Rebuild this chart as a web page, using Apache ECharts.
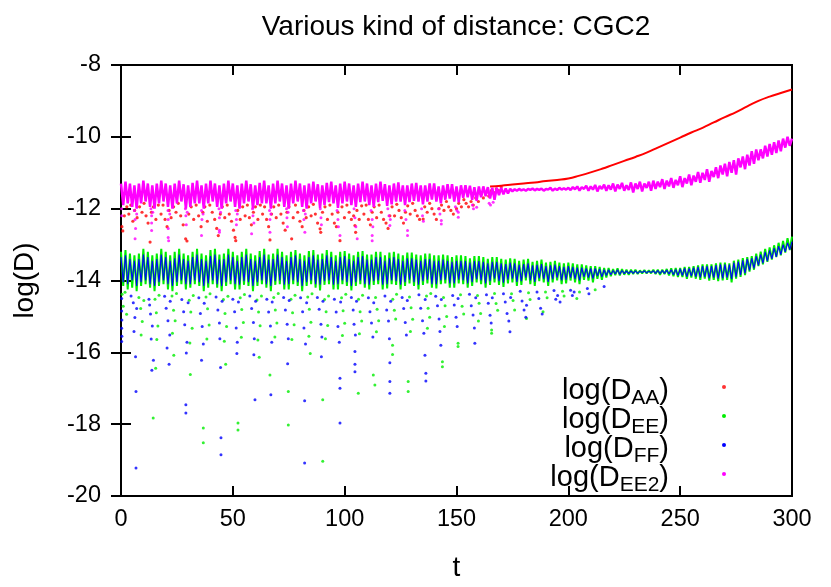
<!DOCTYPE html>
<html><head><meta charset="utf-8">
<script src="https://cdn.jsdelivr.net/npm/echarts@6/dist/echarts.min.js"></script>
<style>html,body{margin:0;padding:0;background:#fff}#c{width:831px;height:587px}</style>
</head><body><div id="c"></div>
<script>
// ---------------- DATA ----------------
const chartTitle = 'Various kind of distance: CGC2';
const xName = 't';
const yName = 'log(D)';
const seriesNames = ['log(DAA)', 'log(DEE)', 'log(DFF)', 'log(DEE2)'];
const seriesSubs = ['AA', 'EE', 'FF', 'EE2'];
const tStep = 1; // sampling step (in t) of the dense traces below

// log(D_EE2): dense trace, t = 0..300
const ee2Core = [
-11.3,-11.9,-11.25,-11.85,-11.3,-11.95,-11.35,-12.0,-11.3,-11.85,
-11.22,-11.8,-11.3,-11.95,-11.35,-12.0,-11.3,-11.85,-11.22,-11.8,
-11.3,-11.95,-11.35,-12.0,-11.3,-11.85,-11.22,-11.8,-11.32,-12.0,
-11.35,-11.95,-11.28,-11.85,-11.22,-11.85,-11.35,-12.0,-11.3,-11.85,
-11.22,-11.8,-11.3,-11.95,-11.35,-12.0,-11.3,-11.85,-11.22,-11.8,
-11.3,-11.95,-11.35,-12.0,-11.3,-11.85,-11.22,-11.8,-11.32,-12.0,
-11.35,-11.9,-11.28,-11.85,-11.22,-11.85,-11.35,-12.0,-11.3,-11.85,
-11.22,-11.8,-11.3,-11.95,-11.35,-12.0,-11.3,-11.85,-11.22,-11.8,
-11.3,-11.95,-11.35,-12.0,-11.3,-11.85,-11.25,-11.8,-11.32,-11.98,
-11.35,-11.9,-11.28,-11.82,-11.25,-11.85,-11.35,-11.98,-11.3,-11.85,
-11.25,-11.8,-11.3,-11.9,-11.35,-11.95,-11.3,-11.82,-11.25,-11.8,
-11.3,-11.9,-11.35,-11.95,-11.3,-11.82,-11.25,-11.78,-11.32,-11.92,
-11.35,-11.88,-11.3,-11.8,-11.27,-11.8,-11.35,-11.9,-11.35,-11.82,
-11.3,-11.78,-11.28,-11.8,-11.35,-11.88,-11.35,-11.8,-11.3,-11.75,
-11.3,-11.8,-11.38,-11.85,-11.35,-11.75,-11.32,-11.72,-11.32,-11.8,
-11.38,-11.82,-11.35,-11.7,-11.35,-11.68,-11.36,-11.75,-11.4,-11.78,
-11.38,-11.68,-11.38,-11.65,-11.4,-11.72,-11.42,-11.75,-11.42,-11.62,
-11.42,-11.6,-11.44,-11.58,-11.45,-11.52,-11.46,-11.5,-11.45,-11.49,
-11.46,-11.5,-11.45,-11.48,-11.44,-11.49,-11.45,-11.48,-11.44,-11.5,
-11.45,-11.47,-11.42,-11.5,-11.44,-11.48,-11.42,-11.47,-11.43,-11.47,
-11.42,-11.48,-11.4,-11.46,-11.38,-11.5,-11.4,-11.45,-11.36,-11.5,
-11.38,-11.47,-11.34,-11.52,-11.37,-11.45,-11.33,-11.5,-11.35,-11.47,
-11.3,-11.52,-11.33,-11.45,-11.28,-11.5,-11.35,-11.48,-11.27,-11.55,
-11.3,-11.45,-11.25,-11.52,-11.3,-11.42,-11.25,-11.5,-11.22,-11.45,
-11.25,-11.4,-11.18,-11.45,-11.22,-11.38,-11.15,-11.42,-11.2,-11.35,
-11.1,-11.4,-11.15,-11.3,-11.05,-11.35,-11.08,-11.25,-10.98,-11.28,
-11.0,-11.2,-10.9,-11.25,-10.95,-11.12,-10.85,-11.15,-10.8,-11.05,
-10.75,-11.1,-10.7,-11.0,-10.65,-11.05,-10.6,-10.85,-10.55,-10.9,
-10.5,-10.8,-10.4,-10.75,-10.35,-10.65,-10.35,-10.6,-10.25,-10.55,
-10.2,-10.5,-10.15,-10.45,-10.1,-10.4,-10.05,-10.3,-10.0,-10.25,
-10.05
];

// log(D_EE): dense trace, t = 0..300
const eeCore = [
-13.2,-14.15,-13.15,-14.25,-13.25,-14.2,-13.3,-14.3,-13.25,-14.15,
-13.12,-14.1,-13.2,-14.2,-13.3,-14.3,-13.25,-14.15,-13.12,-14.1,
-13.2,-14.25,-13.3,-14.3,-13.2,-14.15,-13.12,-14.1,-13.25,-14.25,
-13.3,-14.2,-13.2,-14.1,-13.12,-14.15,-13.25,-14.3,-13.3,-14.2,
-13.15,-14.1,-13.12,-14.2,-13.28,-14.3,-13.25,-14.15,-13.12,-14.1,
-13.2,-14.25,-13.3,-14.25,-13.2,-14.12,-13.12,-14.15,-13.25,-14.3,
-13.3,-14.15,-13.18,-14.1,-13.12,-14.2,-13.28,-14.3,-13.25,-14.12,
-13.12,-14.1,-13.2,-14.25,-13.3,-14.25,-13.2,-14.1,-13.15,-14.15,
-13.25,-14.3,-13.3,-14.15,-13.18,-14.1,-13.15,-14.2,-13.28,-14.28,
-13.25,-14.12,-13.15,-14.1,-13.2,-14.25,-13.3,-14.25,-13.2,-14.1,
-13.18,-14.15,-13.25,-14.28,-13.3,-14.15,-13.2,-14.1,-13.18,-14.2,
-13.28,-14.25,-13.28,-14.12,-13.2,-14.1,-13.2,-14.25,-13.3,-14.22,
-13.22,-14.1,-13.2,-14.12,-13.25,-14.25,-13.3,-14.15,-13.22,-14.08,
-13.22,-14.15,-13.28,-14.25,-13.3,-14.12,-13.25,-14.08,-13.25,-14.2,
-13.3,-14.22,-13.3,-14.1,-13.28,-14.08,-13.3,-14.2,-13.35,-14.2,
-13.3,-14.08,-13.3,-14.1,-13.32,-14.2,-13.38,-14.15,-13.32,-14.05,
-13.32,-14.1,-13.35,-14.2,-13.4,-14.12,-13.35,-14.05,-13.35,-14.12,
-13.4,-14.18,-13.42,-14.08,-13.38,-14.05,-13.4,-14.15,-13.45,-14.12,
-13.42,-14.0,-13.4,-14.1,-13.48,-14.15,-13.45,-14.02,-13.42,-14.05,
-13.5,-14.15,-13.48,-14.05,-13.45,-14.0,-13.5,-14.1,-13.52,-14.08,
-13.5,-14.0,-13.52,-14.05,-13.55,-14.1,-13.55,-13.98,-13.58,-14.0,
-13.6,-14.05,-13.6,-13.95,-13.62,-13.98,-13.65,-13.92,-13.65,-13.88,
-13.68,-13.85,-13.66,-13.86,-13.68,-13.84,-13.7,-13.84,-13.7,-13.82,
-13.7,-13.82,-13.72,-13.8,-13.71,-13.8,-13.72,-13.8,-13.7,-13.82,
-13.7,-13.84,-13.7,-13.82,-13.68,-13.86,-13.66,-13.88,-13.65,-13.9,
-13.65,-13.9,-13.62,-13.95,-13.62,-13.92,-13.6,-13.95,-13.58,-13.98,
-13.55,-13.95,-13.55,-14.0,-13.55,-13.98,-13.52,-14.02,-13.5,-14.0,
-13.5,-13.98,-13.52,-14.05,-13.45,-13.95,-13.42,-13.9,-13.38,-13.85,
-13.35,-13.75,-13.32,-13.7,-13.25,-13.6,-13.2,-13.55,-13.12,-13.48,
-13.08,-13.42,-13.02,-13.35,-12.95,-13.3,-12.9,-13.22,-12.82,-13.15,
-12.78
];

// log(D_FF): dense trace, t = 0..300
const ffCore = [
-13.35,-14.05,-13.3,-14.1,-13.4,-14.0,-13.45,-14.15,-13.4,-14.05,
-13.28,-14.0,-13.35,-14.1,-13.45,-14.15,-13.4,-14.05,-13.28,-14.0,
-13.35,-14.1,-13.45,-14.15,-13.38,-14.05,-13.28,-14.0,-13.4,-14.1,
-13.45,-14.1,-13.35,-14.0,-13.28,-14.05,-13.4,-14.15,-13.45,-14.08,
-13.32,-14.0,-13.28,-14.1,-13.42,-14.15,-13.4,-14.05,-13.28,-14.0,
-13.35,-14.1,-13.45,-14.12,-13.35,-14.02,-13.28,-14.05,-13.4,-14.15,
-13.45,-14.05,-13.35,-14.0,-13.28,-14.1,-13.42,-14.15,-13.4,-14.02,
-13.28,-14.0,-13.35,-14.12,-13.45,-14.1,-13.35,-14.0,-13.3,-14.05,
-13.4,-14.15,-13.45,-14.05,-13.35,-14.0,-13.3,-14.1,-13.42,-14.12,
-13.4,-14.02,-13.3,-14.0,-13.35,-14.12,-13.45,-14.1,-13.35,-14.0,
-13.32,-14.05,-13.4,-14.15,-13.45,-14.05,-13.35,-14.0,-13.32,-14.1,
-13.42,-14.12,-13.42,-14.02,-13.35,-14.0,-13.35,-14.12,-13.45,-14.1,
-13.38,-14.0,-13.35,-14.02,-13.4,-14.12,-13.45,-14.05,-13.38,-13.98,
-13.38,-14.05,-13.42,-14.12,-13.45,-14.02,-13.4,-13.98,-13.4,-14.1,
-13.45,-14.1,-13.45,-14.0,-13.42,-13.98,-13.45,-14.08,-13.48,-14.08,
-13.45,-13.98,-13.45,-14.0,-13.46,-14.08,-13.5,-14.05,-13.46,-13.96,
-13.46,-14.0,-13.48,-14.08,-13.52,-14.02,-13.48,-13.95,-13.48,-14.02,
-13.52,-14.06,-13.54,-13.98,-13.5,-13.95,-13.52,-14.04,-13.56,-14.02,
-13.54,-13.92,-13.52,-14.0,-13.58,-14.04,-13.56,-13.94,-13.54,-13.96,
-13.6,-14.04,-13.58,-13.96,-13.56,-13.92,-13.6,-14.0,-13.62,-13.98,
-13.6,-13.92,-13.62,-13.96,-13.64,-14.0,-13.64,-13.9,-13.66,-13.92,
-13.66,-13.95,-13.66,-13.88,-13.68,-13.9,-13.7,-13.86,-13.7,-13.84,
-13.72,-13.82,-13.7,-13.83,-13.72,-13.81,-13.73,-13.81,-13.73,-13.8,
-13.73,-13.8,-13.74,-13.78,-13.73,-13.79,-13.74,-13.78,-13.73,-13.8,
-13.72,-13.81,-13.72,-13.8,-13.71,-13.82,-13.7,-13.84,-13.69,-13.86,
-13.68,-13.86,-13.66,-13.9,-13.66,-13.88,-13.64,-13.9,-13.62,-13.92,
-13.6,-13.9,-13.6,-13.94,-13.6,-13.92,-13.57,-13.95,-13.55,-13.94,
-13.55,-13.92,-13.56,-13.96,-13.5,-13.9,-13.47,-13.85,-13.44,-13.8,
-13.4,-13.72,-13.38,-13.66,-13.32,-13.58,-13.27,-13.52,-13.2,-13.46,
-13.16,-13.4,-13.1,-13.34,-13.04,-13.28,-13.0,-13.2,-12.95,-13.14,
-12.92
];

// log(D_AA): smooth part of the trace
const aaCurveT = [165,170,175,180,185,190,195,200,205,210,215,220,225,230,235,240,245,250,255,260,265,270,275,280,285,290,295,300];
const aaCurveY = [-11.38,-11.36,-11.33,-11.3,-11.27,-11.23,-11.2,-11.16,-11.08,-10.99,-10.89,-10.78,-10.67,-10.56,-10.44,-10.3,-10.16,-10.02,-9.88,-9.75,-9.6,-9.45,-9.31,-9.15,-9.0,-8.88,-8.78,-8.68];

// log(D_AA): scattered points, t < 170
const aaDots = [
[0.4,-12.5],[0.8,-12.62],[1.5,-12.2],[2.6,-11.95],[3.5,-12.15],[4.4,-11.9],[5.3,-12.35],[6.1,-12.05],[7.2,-12.25],[8.3,-11.95],[9.4,-12.1],
[10.3,-11.85],[11.2,-12.2],[12.1,-12.4],[13.0,-12.93],[13.6,-12.1],[14.5,-11.95],[15.6,-12.3],[16.7,-11.9],
[17.9,-12.15],[18.8,-11.9],[19.7,-12.3],[20.6,-12.5],[21.5,-12.05],[22.4,-12.25],[23.5,-11.95],[24.6,-12.1],
[25.6,-11.85],[26.7,-12.2],[27.8,-12.45],[28.9,-12.84],[29.5,-12.9],[30.3,-12.15],[31.4,-11.95],[32.5,-12.3],
[33.6,-11.9],[34.7,-12.2],[35.8,-12.5],[36.6,-12.1],[37.5,-11.95],[38.6,-12.35],[39.7,-11.9],
[40.8,-12.1],[41.9,-12.3],[42.8,-12.55],[43.5,-12.75],[44.4,-12.15],[45.3,-11.95],[46.4,-12.25],[47.5,-11.9],
[48.4,-12.15],[49.4,-12.35],[50.3,-12.6],[51.0,-12.8],[51.3,-12.89],[52.2,-12.05],[53.3,-12.3],[54.4,-11.95],[55.5,-12.2],
[56.5,-11.9],[57.4,-12.25],[58.3,-12.45],[59.2,-12.1],[60.1,-11.95],[61.2,-12.3],[62.3,-11.9],[63.3,-12.15],
[64.2,-11.95],[65.1,-12.3],[66.0,-12.5],[66.6,-12.87],[67.3,-12.15],[68.3,-11.95],[69.4,-12.25],[70.5,-11.9],
[71.5,-12.15],[72.5,-12.4],[73.4,-12.6],[74.2,-12.1],[75.1,-11.95],[76.3,-12.84],[77.0,-12.25],[78.0,-11.9],
[79.0,-12.1],[80.0,-12.35],[81.0,-12.5],[81.8,-12.05],[82.8,-12.25],[83.9,-11.95],[85.0,-12.2],[86.0,-11.88],
[86.9,-12.15],[87.9,-12.4],[89.0,-12.56],[89.3,-12.66],[90.1,-12.1],[91.2,-11.95],[92.3,-12.3],[93.4,-11.9],
[94.4,-12.15],[95.4,-12.4],[96.3,-12.5],[97.0,-12.1],[97.9,-12.89],[98.8,-11.95],[99.9,-12.25],[101.0,-11.9],
[102.0,-12.1],[103.0,-12.3],[104.0,-12.2],[104.6,-12.47],[104.9,-12.66],[105.5,-12.05],[106.5,-12.3],[107.6,-11.92],[108.6,-12.15],
[109.6,-11.9],[110.6,-12.3],[111.5,-12.45],[112.3,-12.1],[113.2,-11.95],[114.3,-12.25],[115.4,-11.9],
[116.4,-12.1],[117.4,-12.3],[118.5,-12.4],[119.4,-12.55],[120.2,-12.2],[121.2,-11.95],[122.3,-12.2],[123.3,-11.88],
[124.3,-12.05],[125.3,-12.25],[126.3,-12.4],[127.2,-12.1],[128.2,-11.92],[129.3,-12.15],[130.4,-11.85],
[131.5,-12.05],[132.5,-12.2],[133.5,-12.3],[135.1,-12.29],[135.8,-11.95],[136.9,-12.1],[138.0,-11.85],
[139.0,-12.0],[140.0,-12.15],[141.0,-12.3],[142.2,-12.0],[143.3,-11.9],[144.4,-12.05],[145.5,-11.8],
[146.5,-11.95],[147.5,-12.05],[148.6,-12.15],[150.0,-12.0],[151.0,-11.85],[152.2,-11.95],[153.3,-11.75],
[154.3,-11.85],[155.4,-11.95],[156.5,-11.8],[157.5,-11.9],[158.6,-11.7],[159.8,-11.8],[161.0,-11.6],
[162.0,-11.7],[163.2,-11.55],[164.4,-11.65],[165.6,-11.5],[166.7,-11.55],[167.8,-11.45],[168.9,-11.5],[170.0,-11.4]
];

// log(D_EE2): scattered points below the trace
const ee2Dots = [
[0.3,-12.0],[0.3,-12.2],[6.0,-12.05],[6.3,-12.3],[6.5,-12.55],[6.3,-12.84],[7.0,-12.15],
[13.4,-12.0],[13.7,-12.2],[13.7,-12.4],[13.7,-12.61],[14.2,-12.1],
[21.0,-12.05],[21.1,-12.3],[21.1,-12.55],[21.1,-12.8],[21.3,-12.89],[21.8,-12.15],
[28.8,-12.0],[29.0,-12.2],[29.2,-12.45],[29.6,-12.1],
[36.0,-12.05],[36.2,-12.3],[36.0,-12.75],[36.7,-12.15],
[43.8,-12.0],[44.0,-12.25],[44.0,-12.6],[44.0,-12.66],[44.5,-12.1],
[51.3,-12.05],[51.6,-12.3],[51.6,-12.45],[52.0,-12.15],
[58.8,-12.0],[59.0,-12.2],[58.4,-12.7],[59.4,-12.4],
[66.4,-12.05],[66.6,-12.3],[66.6,-12.66],[67.0,-12.15],
[74.0,-12.0],[74.2,-12.25],[74.4,-12.5],[74.7,-12.1],
[81.6,-12.05],[82.2,-12.66],[81.8,-12.3],[82.4,-12.15],
[89.1,-12.0],[89.4,-12.25],[89.6,-12.45],
[96.6,-12.05],[97.0,-12.3],[97.9,-12.75],[97.2,-12.5],
[104.2,-12.0],[104.6,-12.25],[105.6,-12.84],[105.0,-12.5],
[111.8,-12.05],[112.3,-12.3],[112.3,-12.75],[112.3,-12.89],[112.6,-12.5],
[119.3,-12.0],[120.2,-12.47],[119.8,-12.2],[120.4,-12.3],
[126.9,-12.05],[128.1,-12.61],[128.1,-12.75],[127.4,-12.3],
[134.4,-12.0],[134.8,-12.2],[135.2,-12.35],
[142.0,-12.0],[143.2,-12.33],[143.2,-12.43],[142.6,-12.15],
[149.5,-11.95],[150.8,-12.1],[150.8,-12.24],[150.2,-12.05],
[157.1,-11.9],[159.0,-11.96],[157.6,-12.0],
[164.6,-11.85],[166.4,-11.82],[165.2,-11.9]
];

// log(D_EE): scattered points below the trace
const eeDots = [
[0.5,-14.38],[1.0,-14.72],[1.8,-14.33],[2.5,-14.94],
[8.0,-14.47],[8.8,-14.78],[9.5,-15.14],[10.2,-14.56],[9.0,-15.52],
[14.4,-17.83],[15.2,-14.52],[15.8,-14.9],[16.5,-15.27],[16.0,-15.64],[17.0,-14.41],[15.5,-16.44],
[22.8,-14.43],[23.5,-14.83],[24.2,-15.12],[23.0,-15.47],[24.8,-14.36],[23.6,-16.08],
[30.5,-14.55],[31.2,-14.88],[31.8,-15.33],[30.8,-15.74],[32.3,-14.42],[31.0,-16.62],
[36.8,-18.11],[36.8,-18.52],[38.0,-14.46],[38.7,-14.79],[39.4,-15.24],[38.4,-15.63],[39.8,-14.37],
[45.8,-14.53],[46.5,-14.92],[47.2,-15.28],[46.2,-15.69],[47.8,-14.44],[46.8,-16.33],
[52.3,-17.97],[52.3,-18.16],[53.3,-14.48],[54.0,-14.81],[54.7,-15.17],[53.8,-15.58],[55.2,-14.39],
[60.8,-14.54],[61.5,-14.88],[62.2,-15.26],[61.2,-15.66],[62.8,-14.43],[61.8,-16.14],
[66.6,-16.63],[68.3,-14.47],[69.0,-14.82],[69.7,-15.18],[68.8,-15.57],[70.3,-14.36],
[74.8,-17.09],[74.8,-18.02],[76.0,-14.52],[76.7,-14.9],[77.4,-15.23],[76.4,-15.64],[77.8,-14.41],
[83.5,-14.46],[84.2,-14.8],[84.9,-15.16],[84.0,-15.55],[85.4,-14.37],[84.6,-16.03],
[90.2,-17.32],[90.2,-19.03],[91.0,-14.53],[91.7,-14.87],[92.4,-15.25],[91.4,-15.62],[92.8,-14.43],
[98.6,-14.48],[99.3,-14.84],[100.0,-15.19],[99.0,-15.53],[100.5,-14.38],
[106.1,-17.14],[106.2,-14.52],[106.9,-14.87],[107.6,-15.13],[106.6,-15.48],[108.0,-14.41],
[112.8,-16.63],[113.5,-16.91],[113.8,-14.47],[114.5,-14.8],[115.2,-15.12],[114.2,-15.43],
[121.4,-15.8],[121.4,-16.06],[121.5,-14.52],[122.2,-14.83],[122.8,-15.07],[123.2,-14.38],
[128.4,-16.81],[128.4,-17.09],[129.0,-14.46],[129.7,-14.76],[130.4,-15.08],[129.4,-15.42],
[136.6,-14.43],[137.3,-14.77],[138.0,-15.02],[137.0,-15.33],[138.5,-14.36],
[143.7,-16.26],[143.7,-16.4],[144.2,-14.47],[144.9,-14.7],[145.6,-15.0],[144.6,-15.28],
[150.7,-15.75],[150.7,-15.84],[151.8,-14.4],[152.5,-14.72],[153.2,-14.93],
[159.4,-14.42],[160.1,-14.63],[160.8,-14.92],[159.8,-15.13],
[165.7,-15.38],[165.7,-15.47],[167.0,-14.36],[167.7,-14.64],[168.4,-14.83],
[174.6,-14.37],[175.3,-14.56],[176.0,-14.82],
[181.3,-15.06],[182.2,-14.34],[182.9,-14.53],
[188.7,-14.87],[189.8,-14.32],[190.5,-14.48],
[197.4,-14.3],[198.1,-14.43],[203.8,-14.5],[205,-14.32],[212,-14.26]
];

// log(D_FF): scattered points below the trace
const ffDots = [
[0.3,-14.5],[0.3,-14.85],[0.4,-15.1],[0.3,-15.33],[0.4,-15.55],[0.3,-15.7],
[6.7,-19.22],[6.7,-17.09],[5.5,-14.62],[6.2,-15.03],[5.8,-15.42],[7.0,-14.78],[4.5,-14.43],[6.5,-16.12],
[12.5,-14.52],[13.2,-14.93],[14.0,-15.27],[13.5,-15.63],[12.8,-14.68],[14.5,-16.22],[13.8,-16.5],
[19.5,-14.44],[20.2,-14.77],[21.0,-15.12],[21.8,-15.52],[20.6,-15.88],[22.0,-14.58],[21.5,-16.33],
[27.2,-14.53],[28.0,-14.87],[29.0,-17.46],[29.0,-17.69],[28.5,-15.23],[29.5,-15.72],[30.0,-14.62],[29.2,-16.02],
[34.8,-14.48],[35.5,-14.92],[36.3,-15.28],[36.8,-15.77],[37.2,-14.63],[36.0,-16.22],
[42.5,-14.46],[43.3,-14.82],[44.0,-15.18],[44.7,-18.38],[44.7,-18.85],[44.2,-15.62],[45.2,-14.58],[44.5,-16.42],
[50.0,-14.52],[50.8,-14.87],[51.5,-15.32],[52.0,-15.72],[52.5,-14.6],[51.8,-16.03],
[57.6,-14.43],[58.4,-14.78],[59.2,-15.17],[59.9,-17.32],[59.6,-15.62],[60.2,-14.58],[59.4,-16.07],
[65.2,-14.52],[66.0,-14.88],[66.8,-15.27],[67.0,-17.18],[67.4,-15.72],[67.6,-14.6],
[72.7,-14.47],[73.5,-14.82],[74.3,-15.22],[74.8,-15.62],[75.2,-14.56],[74.5,-16.32],
[80.3,-14.48],[81.2,-14.87],[82.1,-17.35],[82.1,-19.08],[81.8,-15.32],[82.5,-15.77],[83.0,-14.62],
[87.8,-14.47],[88.6,-14.8],[89.4,-15.22],[89.8,-15.57],[90.3,-14.58],[89.6,-16.12],
[95.4,-14.52],[96.2,-14.88],[97.0,-15.28],[97.9,-17.97],[97.9,-17.0],[97.9,-16.72],[97.6,-15.72],[98.2,-14.6],
[103.0,-14.47],[103.8,-14.82],[104.6,-15.98],[104.6,-16.33],[104.6,-16.54],[104.2,-15.22],[105.3,-14.58],[104.8,-15.52],
[110.6,-14.48],[111.3,-14.87],[112.0,-15.18],[112.6,-15.57],[113.0,-14.62],
[118.0,-14.43],[118.8,-14.82],[119.6,-15.13],[120.2,-16.29],[120.2,-16.81],[120.2,-17.14],[120.0,-15.62],[120.6,-14.58],
[125.7,-14.47],[126.4,-14.78],[127.1,-15.17],[127.6,-15.52],[128.0,-14.56],
[133.2,-14.4],[134.0,-14.77],[134.8,-15.12],[135.9,-16.08],[136.3,-16.58],[136.3,-16.8],[135.4,-15.47],[136.0,-14.53],
[140.7,-14.44],[141.5,-14.7],[142.2,-15.07],[143.0,-15.8],[142.6,-15.42],[143.2,-14.53],
[148.3,-14.42],[149.0,-14.68],[149.8,-15.02],[150.3,-15.28],[150.7,-14.5],
[155.8,-14.38],[156.6,-14.7],[157.4,-14.96],[158.2,-15.75],[158.0,-15.32],[158.6,-14.48],
[163.4,-14.4],[164.2,-14.63],[165.0,-14.97],[165.5,-15.18],[166.0,-14.48],
[171.0,-14.37],[171.8,-14.6],[172.6,-14.92],[173.9,-15.43],[173.4,-15.13],[174.2,-14.47],
[178.5,-14.3],[179.3,-14.57],[180.2,-14.82],[181.3,-14.69],[181.0,-15.02],
[186.0,-14.32],[186.8,-14.5],[187.6,-14.77],[188.3,-14.93],
[193.6,-14.28],[194.4,-14.52],[195.2,-14.42],[196.3,-14.6],
[201.0,-14.27],[201.8,-14.42],[202.6,-14.32],
[208.5,-14.22],[209.2,-14.37],[216,-14.17]
];

// ---------------- CHART ----------------
const colors = ['#ff0000', '#00ee00', '#0000ff', '#ff00ff'];
const FONT = 'Liberation Sans';
const toPairs = arr => arr.map((y, i) => [i * tStep, y]);
const zip = (xs, ys) => xs.map((x, i) => [x, ys[i]]);

const chart = echarts.init(document.getElementById('c'), null, {renderer: 'canvas'});

function dotSeries(name, color, data, size) {
  return {type: 'scatter', name, data, symbol: 'circle', symbolSize: size,
    itemStyle: {color}, silent: true, animation: false};
}
function traceSeries(name, color, data, width, smooth) {
  return {type: 'line', name, data, showSymbol: false, symbol: 'none', smooth: !!smooth,
    lineStyle: {color, width}, itemStyle: {color}, silent: true, animation: false};
}

const richStyles = {
  m: {fontSize: 29, fontFamily: FONT, color: '#000', lineHeight: 22, verticalAlign: 'top'},
  s: {fontSize: 21, fontFamily: FONT, color: '#000', lineHeight: 16, padding: [12, 0, 0, 0], verticalAlign: 'top'},
  p: {width: 48}
};

const axisTickStyle = {show: true, inside: true, length: 10, lineStyle: {color: '#000', width: 2}};

chart.setOption({
  animation: false,
  backgroundColor: '#fff',
  title: {
    text: chartTitle, left: 451, top: 8, textAlign: 'center',
    textStyle: {fontFamily: FONT, fontSize: 28, fontWeight: 'normal', color: '#000'}
  },
  grid: {left: 121, right: 39, top: 65, bottom: 89, show: true, borderColor: '#000', borderWidth: 2, backgroundColor: 'transparent'},
  legend: {
    orient: 'vertical', right: 100, top: 371, align: 'right', itemGap: -4,
    itemWidth: 4, itemHeight: 4,
    data: seriesNames.map(n => ({name: n, icon: 'circle'})),
    formatter: name => {
      const sub = seriesSubs[seriesNames.indexOf(name)];
      return '{m|log(D}{s|' + sub + '}{m|)}{p|}';
    },
    textStyle: {rich: richStyles}
  },
  xAxis: [
    {type: 'value', min: 0, max: 300, interval: 50, position: 'bottom',
     name: xName, nameLocation: 'middle', nameGap: 58,
     nameTextStyle: {fontFamily: FONT, fontSize: 28, color: '#000'},
     axisLine: {show: true, lineStyle: {color: '#000', width: 2}},
     axisTick: axisTickStyle,
     axisLabel: {fontFamily: FONT, fontSize: 23.5, color: '#000', margin: 12},
     splitLine: {show: false}},
    {type: 'value', min: 0, max: 300, interval: 50, position: 'top',
     axisLine: {show: false}, axisTick: axisTickStyle, axisLabel: {show: false}, splitLine: {show: false}}
  ],
  yAxis: [
    {type: 'value', min: -20, max: -8, interval: 2, position: 'left',
     name: yName, nameLocation: 'middle', nameGap: 82, nameRotate: 90,
     nameTextStyle: {fontFamily: FONT, fontSize: 28, color: '#000'},
     axisLine: {show: true, lineStyle: {color: '#000', width: 2}},
     axisTick: axisTickStyle,
     axisLabel: {fontFamily: FONT, fontSize: 23.5, color: '#000', margin: 20},
     splitLine: {show: false}},
    {type: 'value', min: -20, max: -8, interval: 2, position: 'right',
     axisLine: {show: false}, axisTick: axisTickStyle, axisLabel: {show: false}, splitLine: {show: false}}
  ],
  series: [
    dotSeries(seriesNames[0], colors[0], aaDots, 3.2),
    traceSeries(seriesNames[0], colors[0], zip(aaCurveT, aaCurveY), 2, true),
    traceSeries(seriesNames[1], colors[1], toPairs(eeCore), 2),
    dotSeries(seriesNames[1], colors[1], eeDots, 3),
    traceSeries(seriesNames[2], colors[2], toPairs(ffCore), 1.1),
    dotSeries(seriesNames[2], colors[2], ffDots, 3),
    traceSeries(seriesNames[3], colors[3], toPairs(ee2Core), 2.5),
    dotSeries(seriesNames[3], colors[3], ee2Dots, 3)
  ]
});
</script>
</body></html>
